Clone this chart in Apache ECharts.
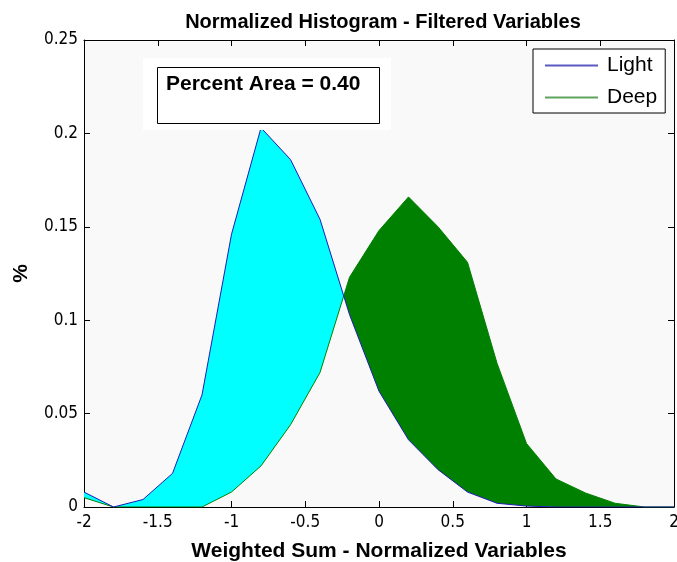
<!DOCTYPE html>
<html>
<head>
<meta charset="utf-8">
<script src="https://cdn.jsdelivr.net/npm/echarts@6/dist/echarts.min.js"></script>
<style>
  html, body { margin: 0; padding: 0; background: #fff; }
  #chart { width: 677px; height: 562px; }
</style>
</head>
<body>
<div id="chart"></div>
<script>
// histogram bin centres and normalized counts
const bins = [-2, -1.8, -1.6, -1.4, -1.2, -1.0, -0.8, -0.6, -0.4, -0.2, 0, 0.2, 0.4, 0.6, 0.8, 1.0, 1.2, 1.4, 1.6, 1.8, 2.0];
const light = [0.008, 0, 0.004, 0.018, 0.060, 0.146, 0.203, 0.186, 0.154, 0.103, 0.062, 0.036, 0.020, 0.008, 0.002, 0.0005, 0, 0, 0, 0, 0];
const deep = [0.005, 0, 0, 0, 0, 0.008, 0.022, 0.044, 0.072, 0.123, 0.148, 0.166, 0.150, 0.131, 0.077, 0.034, 0.015, 0.0075, 0.002, 0, 0];
const xTicks = [-2, -1.5, -1, -0.5, 0, 0.5, 1, 1.5, 2];
const yTicks = [0, 0.05, 0.1, 0.15, 0.2, 0.25];
const areaText = 'Percent Area = 0.40';

const FONT = '"Liberation Sans", Arial, sans-serif';
const NARROW = '"Liberation Sans Narrow", "DejaVu Sans Condensed", "Liberation Sans", sans-serif';

const chart = echarts.init(document.getElementById('chart'));

const lightPts = bins.map((x, i) => [x, light[i]]);
const deepPts = bins.map((x, i) => [x, deep[i]]);

// fill between the two curves: cyan where Light is above, green where Deep is above
function renderFill(params, api) {
    const top = lightPts.map(p => api.coord(p));
    const bot = deepPts.map(p => api.coord(p));
    const poly = top.concat(bot.slice().reverse());
    // where light drops below deep after its peak
    let crossX = top[top.length - 1][0];
    const peak = light.indexOf(Math.max(...light));
    for (let i = peak; i < bins.length - 1; i++) {
        const d0 = light[i] - deep[i], d1 = light[i + 1] - deep[i + 1];
        if (d0 > 0 && d1 <= 0) {
            const t = d0 / (d0 - d1);
            crossX = top[i][0] + t * (top[i + 1][0] - top[i][0]);
            break;
        }
    }
    const x0 = top[0][0], x1 = top[top.length - 1][0];
    const s = (crossX - x0) / (x1 - x0);
    return {
        type: 'polygon',
        shape: { points: poly },
        style: {
            fill: {
                type: 'linear', global: true,
                x: x0, y: 0, x2: x1, y2: 0,
                colorStops: [
                    { offset: 0, color: '#00ffff' },
                    { offset: s, color: '#00ffff' },
                    { offset: s, color: '#008000' },
                    { offset: 1, color: '#008000' }
                ]
            },
            stroke: null
        }
    };
}

const tickStyle = { show: true, inside: true, length: 6, lineStyle: { color: '#000' } };
const lineStyle = { show: true, onZero: false, lineStyle: { color: '#000', width: 1 } };

const option = {
    backgroundColor: '#fff',
    animation: false,
    title: {
        text: 'Normalized Histogram - Filtered Variables',
        left: 378, top: 7, textAlign: 'center',
        textStyle: { fontFamily: FONT, fontSize: 20, fontWeight: 'bold', color: '#000' }
    },
    grid: {
        left: 84, right: 3, top: 40, bottom: 55,
        outerBoundsMode: 'none', containLabel: false,
        show: true, backgroundColor: '#f9f9f9', borderWidth: 0
    },
    legend: {
        orient: 'vertical',
        left: 533, top: 49,
        padding: [6, 8, 5, 12],
        itemWidth: 53, itemHeight: 2, itemGap: 11,
        backgroundColor: '#fff', borderColor: '#000', borderWidth: 1,
        textStyle: { fontFamily: FONT, fontSize: 21, color: '#000', padding: [0, 0, 0, 4] },
        data: [
            { name: 'Light', icon: 'rect', itemStyle: { color: '#5a5ac4' } },
            { name: 'Deep', icon: 'rect', itemStyle: { color: '#5fa35f' } }
        ]
    },
    xAxis: [{
        type: 'value', min: -2, max: 2, interval: 0.5, position: 'bottom',
        axisLine: lineStyle,
        axisTick: tickStyle,
        splitLine: { show: false },
        axisLabel: {
            color: '#000', fontFamily: NARROW, fontSize: 17, margin: 7,
            formatter: v => xTicks.includes(v) ? String(v) : ''
        },
        name: 'Weighted Sum - Normalized Variables',
        nameLocation: 'middle', nameGap: 34,
        nameTextStyle: { fontFamily: FONT, fontSize: 21, fontWeight: 'bold', color: '#000' }
    }, {
        type: 'value', min: -2, max: 2, interval: 0.5, position: 'top',
        axisLine: lineStyle,
        axisTick: tickStyle, axisLabel: { show: false }, splitLine: { show: false }
    }],
    yAxis: [{
        type: 'value', min: 0, max: 0.25, interval: 0.05, position: 'left',
        axisLine: lineStyle,
        axisTick: tickStyle,
        splitLine: { show: false },
        axisLabel: {
            color: '#000', fontFamily: NARROW, fontSize: 17, margin: 6,
            formatter: v => yTicks.some(t => Math.abs(t - v) < 1e-9) ? String(+v.toFixed(2)) : ''
        },
        name: '%', nameLocation: 'middle', nameGap: 52, nameRotate: 90,
        nameTextStyle: { fontFamily: FONT, fontSize: 21, fontWeight: 'bold', color: '#000' }
    }, {
        type: 'value', min: 0, max: 0.25, interval: 0.05, position: 'right',
        axisLine: lineStyle,
        axisTick: tickStyle, axisLabel: { show: false }, splitLine: { show: false }
    }],
    graphic: [
        { type: 'rect', left: 143, top: 58, shape: { width: 248, height: 72 }, style: { fill: '#fff' }, z: 100 },
        {
            type: 'rect', left: 157, top: 67, shape: { width: 222, height: 56 },
            style: { fill: '#fff', stroke: '#000', lineWidth: 1 }, z: 101
        },
        {
            type: 'text', left: 166, top: 74, z: 102,
            style: { text: areaText, fontFamily: FONT, fontSize: 21, fontWeight: 'bold', fill: '#000' }
        }
    ],
    series: [
        {
            type: 'custom', name: 'fill', silent: true, z: 1,
            data: [[0, 0]],
            renderItem: renderFill,
            clip: true
        },
        {
            name: 'Deep', type: 'line', data: deepPts, symbol: 'none', z: 3,
            lineStyle: { color: '#008000', width: 1 }, itemStyle: { color: '#5fa35f' }
        },
        {
            name: 'Light', type: 'line', data: lightPts, symbol: 'none', z: 4,
            lineStyle: { color: '#1c1cb4', width: 1 }, itemStyle: { color: '#5a5ac4' }
        }
    ]
};

chart.setOption(option);
</script>
</body>
</html>
